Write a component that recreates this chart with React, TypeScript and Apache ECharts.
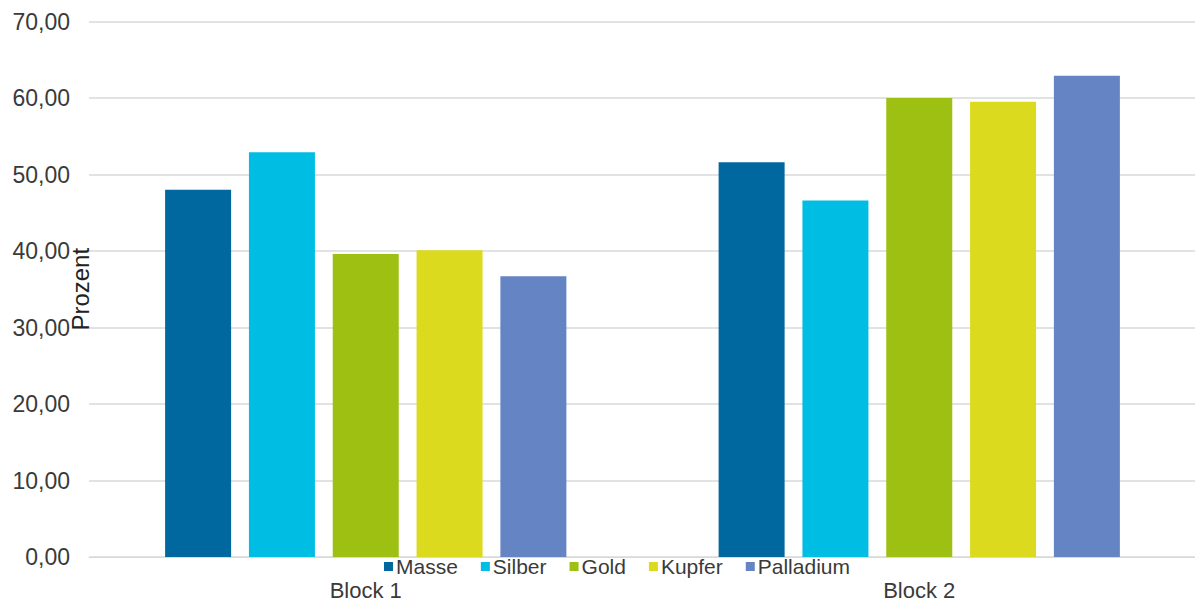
import React, { useEffect, useRef } from "react";
import * as echarts from "echarts";

const categories = ["Block 1", "Block 2"];
const seriesNames = ["Masse", "Silber", "Gold", "Kupfer", "Palladium"];
const masse = [48.0, 51.6];
const silber = [52.9, 46.6];
const gold = [39.6, 60.0];
const kupfer = [40.1, 59.5];
const palladium = [36.7, 62.9];
const colors = ["#00679F", "#00BDE3", "#9DC013", "#DCDA1E", "#6484C4"];
const yTickLabels = ["0,00", "10,00", "20,00", "30,00", "40,00", "50,00", "60,00", "70,00"];

const FONT = "'Liberation Sans', Arial, sans-serif";

export default function App() {
  const ref = useRef<HTMLDivElement>(null);
  useEffect(() => {
    if (!ref.current) return;
    const chart = echarts.init(ref.current, undefined, { renderer: "svg" });
    const data = [masse, silber, gold, kupfer, palladium];
    chart.setOption({
      animation: false,
      backgroundColor: "#ffffff",
      textStyle: { fontFamily: FONT },
      grid: {
        left: 89,
        top: 21.5,
        width: 1107,
        height: 535.5,
        containLabel: false,
        outerBoundsMode: "none",
      },
      legend: {
        data: seriesNames,
        left: 379,
        top: 551,
        itemWidth: 9,
        itemHeight: 9,
        itemGap: 23,
        icon: "rect",
        textStyle: { fontSize: 21, color: "#3a3a3a", fontFamily: FONT, padding: [0, 0, 0, -2] },
      },
      xAxis: {
        type: "category",
        data: categories,
        axisTick: { show: false },
        axisLine: { lineStyle: { color: "#D9D9D9", width: 1 } },
        axisLabel: { fontSize: 22, color: "#3a3a3a", margin: 22, fontFamily: FONT },
      },
      yAxis: {
        type: "value",
        min: 0,
        max: 70,
        interval: 10,
        name: "Prozent",
        nameLocation: "middle",
        nameRotate: 90,
        nameGap: -3,
        nameMoveOverlap: false,
        nameTextStyle: { fontSize: 24, color: "#222", fontFamily: FONT },
        axisLine: { show: false },
        axisTick: { show: false },
        splitLine: { lineStyle: { color: "#D9D9D9", width: 1.5 } },
        axisLabel: {
          fontSize: 23,
          color: "#3a3a3a",
          margin: 19,
          fontFamily: FONT,
          formatter: (v: number) => yTickLabels[Math.round(v / 10)] ?? "",
        },
      },
      series: seriesNames.map((name, i) => ({
        name,
        type: "bar",
        data: data[i],
        barWidth: 66,
        barGap: "27%",
        itemStyle: { color: colors[i] },
      })),
    });
    return () => chart.dispose();
  }, []);
  return (
    <div
      ref={ref}
      style={{ position: "fixed", left: 0, top: 0, width: 1195, height: 602 }}
    />
  );
}
